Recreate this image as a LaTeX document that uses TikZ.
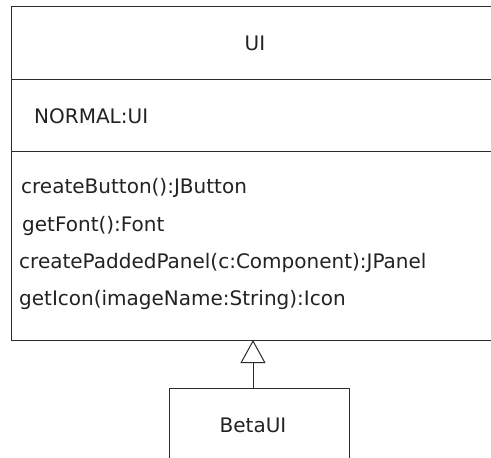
\documentclass[tikz,border=0pt]{standalone}
\usepackage{fontspec}
\setmainfont{DejaVu Sans}
\usetikzlibrary{positioning, arrows.meta}
\definecolor{umlLine}{HTML}{2B2B2B}
\definecolor{umlText}{HTML}{222222}
\begin{document}
\begin{tikzpicture}[
    x=1pt, y=-1pt,
    every node/.style={font=\fontsize{20}{24}\selectfont, text=umlText},
    compartment/.style={draw=umlLine, line width=1pt, minimum width=484pt, inner sep=0pt, outer sep=0pt},
    member/.style={anchor=base west, inner sep=0pt},
    inherit/.style={draw=umlLine, line width=1pt, -{Triangle[open, length=23pt, width=25pt, line width=1pt]}}
]
    \useasboundingbox (0,0) rectangle (491,458);
    \clip (0,0) rectangle (491,458);

    \node[compartment, minimum height=73pt, anchor=north west] (UIname) at (11,6) {};
    \node[compartment, minimum height=72pt, below=0pt of UIname] (UIattr) {};
    \node[compartment, minimum height=189pt, below=0pt of UIattr] (UIops) {};
    \node[anchor=base] (UItitle) at (255,50) {UI};

    \node[member] (normal) at (34,123) {NORMAL:UI};

    \node[member] (createButton) at (21,193) {createButton():JButton};
    \node[member] (getFont) at (22,231) {getFont():Font};
    \node[member] (createPadded) at (19,268) {createPaddedPanel(c:Component):JPanel};
    \node[member] (getIcon) at (19,305) {getIcon(imageName:String):Icon};

    \node[compartment, minimum width=180pt, minimum height=80pt, anchor=north west] (Beta) at (169,388) {};
    \node[anchor=base] (BetaTitle) at (253,432) {BetaUI};

    \coordinate (BetaTop) at (253,388);
    \draw[inherit] (BetaTop) -- (BetaTop |- UIops.south);
\end{tikzpicture}
\end{document}
